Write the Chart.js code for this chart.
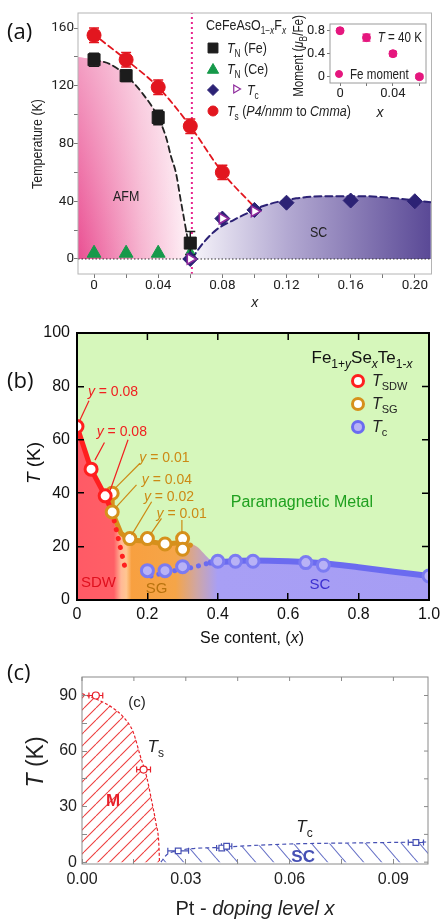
<!DOCTYPE html>
<html lang="en">
<head>
<meta charset="UTF-8" />
<meta name="viewport" content="width=device-width, initial-scale=1" />
<title>Phase diagrams of three iron-based superconductors</title>
<script src="https://cdn.jsdelivr.net/npm/chart.js"></script>
<style>
  body { margin: 0; background: #fff; }
  #wrap { position: relative; width: 441px; height: 920px; overflow: hidden; }
  #wrap canvas { position: absolute; left: 0; }
  #chartA { top: 0; }
  #inset { top: 10px; left: 285px !important; }
  #chartB { top: 312px; }
  #chartC { top: 648px; }
</style>
</head>
<body>
<div id="wrap">
  <canvas id="chartA" width="441" height="312"></canvas>
  <canvas id="inset" width="150" height="113"></canvas>
  <canvas id="chartB" width="441" height="336"></canvas>
  <canvas id="chartC" width="441" height="272"></canvas>
</div>

<script>
// ---------- (a) CeFeAsO1-xFx ----------
const tsX = [0, 0.02, 0.04, 0.06, 0.08];
const tsT = [155, 138, 119, 92, 60];
const tsErr = [5, 5, 5, 5, 5];
const tnFeX = [0, 0.02, 0.04, 0.06];
const tnFeT = [138, 127, 98, 11];
const tnFeErr = [4.5, 4, 5, 8];
const tnCeX = [0, 0.02, 0.04, 0.06];
const tnCeT = [4, 4, 4, 5];
const tcDiaX = [0.06, 0.08, 0.10, 0.12, 0.16, 0.20];
const tcDiaT = [0, 28, 34, 39, 40.5, 40];
const tcTriX = [0.06, 0.08, 0.10];
const tcTriT = [0, 28, 33];
// guide curves
const afmX = [-0.01, 0, 0.01, 0.02, 0.03, 0.04, 0.045, 0.048, 0.051, 0.054, 0.0577, 0.0605];
const afmT = [140, 138, 135, 127, 115, 98, 84, 71, 60, 41, 18, 0];
const tsLineX = [0.004, 0.02, 0.04, 0.06, 0.08, 0.1];
const tsLineT = [152, 138, 119, 92, 60, 36];
const scX = [0.061, 0.064, 0.068, 0.076, 0.087, 0.099, 0.105, 0.126, 0.147, 0.167, 0.188, 0.21];
const scT = [0, 5, 11, 20, 27, 33.5, 36.5, 42, 43.5, 43.5, 42, 39.3];
const limitX = [0.061, 0.061];
const limitT = [-10.4, 170.4];
const zeroX = [-0.01, 0.2104];
const zeroT = [0, 0];
// inset: Fe moment at 40 K
const momX = [0, 0.02, 0.04, 0.06];
const momV = [0.8, 0.68, 0.4, 0];
const momErr = [0.03, 0.06, 0.04, 0.03];

// ---------- (b) Fe1+ySexTe1-x ----------
const sdwX = [0, 0.04, 0.08];
const sdwT = [65, 49, 39];
const sgX = [0.1, 0.1, 0.15, 0.2, 0.25, 0.3, 0.3];
const sgT = [40, 33, 23, 23, 21, 23, 19];
const tcbX = [0.2, 0.25, 0.3, 0.4, 0.45, 0.5, 0.65, 0.7, 1.0];
const tcbT = [11, 11, 12.5, 14.5, 14.5, 14.5, 14, 13, 9];
const sdwLineX = [0, 0.04, 0.08, 0.1];
const sdwLineT = [65, 49, 39, 33];
const sdwTailX = [0.1, 0.14];
const sdwTailT = [33, 10];
const sgLineX = [0.1, 0.1, 0.125, 0.15, 0.2, 0.25, 0.3];
const sgLineT = [40, 33, 25, 22.5, 22, 21, 21.5];
const sgTailX = [0.3, 0.335];
const sgTailT = [21.5, 20];
const tcTailX = [0.21, 0.26, 0.32, 0.38];
const tcTailT = [9, 10.5, 12, 14];
const tcLineX = [0.38, 0.5, 0.6, 0.7, 0.8, 0.9, 1.0];
const tcLineT = [14, 14.8, 14.5, 13.8, 12.3, 10.6, 9];
const phaseX = [0, 0.04, 0.08, 0.1, 0.12, 0.15, 0.2, 0.25, 0.3, 0.34, 0.38, 0.4, 0.5, 0.6, 0.7, 0.8, 0.9, 1.0];
const phaseT = [65, 49, 39, 33, 25, 23, 23, 21, 22, 20, 15, 14.5, 14.8, 14.5, 13.8, 12.3, 10.6, 9];

// ---------- (c) Pt doping ----------
const mX = [0, 0.0042, 0.0086, 0.012, 0.0148, 0.0168, 0.0187, 0.0201, 0.0214, 0.0222, 0.0224];
const mT = [91, 88, 83.7, 78.3, 70.2, 57.6, 46, 33.4, 20.8, 10, 0];
const sccX = [0.0228, 0.0245, 0.028, 0.04, 0.06, 0.08, 0.1];
const sccT = [0, 4, 6.3, 8, 9.8, 10.4, 10.9];
const tscX = [0.004, 0.0178];
const tscT = [90, 50];
const tscErr = [0.002, 0.002];
const tccX = [0.0278, 0.0404, 0.0418, 0.0965];
const tccT = [6.1, 7.6, 8.6, 10.6];
const tccErr = [0.003, 0.0015, 0.0015, 0.0022];

// ---------- helpers ----------
const SANS = '"Liberation Sans", Arial, Helvetica, sans-serif';
const TICKA = 'Roboto, "Liberation Sans", sans-serif';
const TAG = '"Open Sans", "Liberation Sans", sans-serif';
const SQ = 0.83; // horizontal squeeze to mimic the condensed face of panel (a)
const RED_A = '#e2161f', NAVY = '#2c2275', GREEN = '#16994a', MAGENTA = '#e5177e';

const pts = (xs, ys) => xs.map((x, i) => ({ x, y: ys[i] }));
const isMul = (v, s) => Math.abs(v / s - Math.round(v / s)) < 1e-6;

// text with italic (i), subscript (s) and bold (b) runs; sx squeezes horizontally
function rich(ctx, x, y, parts, size, family, color, align, sx) {
  sx = sx || 1;
  const f = s => (s.includes('i') ? 'italic ' : '') + (s.includes('b') ? 'bold ' : '') +
    (s.includes('s') ? Math.round(size * 0.68) : size) + 'px ' + family;
  let w = 0;
  for (const [t, s = ''] of parts) { ctx.font = f(s); w += ctx.measureText(t).width; }
  w *= sx;
  let cx = align === 'center' ? x - w / 2 : align === 'right' ? x - w : x;
  ctx.save();
  ctx.fillStyle = color; ctx.textAlign = 'left'; ctx.textBaseline = 'alphabetic';
  for (const [t, s = ''] of parts) {
    ctx.font = f(s);
    ctx.save(); ctx.translate(cx, y + (s.includes('s') ? size * 0.28 : 0)); ctx.scale(sx, 1);
    ctx.fillText(t, 0, 0); ctx.restore();
    cx += ctx.measureText(t).width * sx;
  }
  ctx.restore();
}
function richUp(ctx, x, y, parts, size, family, color, sx) {
  ctx.save(); ctx.translate(x, y); ctx.rotate(-Math.PI / 2);
  rich(ctx, 0, size * 0.35, parts, size, family, color, 'center', sx);
  ctx.restore();
}
function sym(ctx, style, x, y, r, fill, stroke, bw, rot) {
  ctx.save(); ctx.fillStyle = fill; ctx.strokeStyle = stroke; ctx.lineWidth = bw;
  Chart.helpers.drawPoint(ctx, { pointStyle: style, radius: r, rotation: rot || 0, borderWidth: bw }, x, y);
  ctx.restore();
}
function frame(chart, color, w) {
  const { ctx, chartArea: a } = chart;
  ctx.save(); ctx.strokeStyle = color; ctx.lineWidth = w;
  ctx.strokeRect(a.left, a.top, a.right - a.left, a.bottom - a.top);
  ctx.restore();
}
function mirrorTicks(chart, len, color, w) {
  const { ctx, chartArea: a, scales: { x, y } } = chart;
  ctx.save(); ctx.strokeStyle = color; ctx.lineWidth = w; ctx.beginPath();
  x.ticks.forEach(t => { const p = x.getPixelForValue(t.value); ctx.moveTo(p, a.top); ctx.lineTo(p, a.top + len); });
  y.ticks.forEach(t => { const p = y.getPixelForValue(t.value); ctx.moveTo(a.right, p); ctx.lineTo(a.right - len, p); });
  ctx.stroke(); ctx.restore();
}
// hatch pattern, built on first use with the chart's own context
function hatch(rgb, w, h, up) {
  let pat = null;
  return c => {
    if (pat) return pat;
    const tile = document.createElement('canvas');
    tile.width = w; tile.height = h;
    const g = tile.getContext('2d');
    g.lineWidth = 1.1;
    g.strokeStyle = rgb;
    g.beginPath();
    for (let k = -1; k <= 1; k++) {
      if (up) { g.moveTo(k * w, h); g.lineTo(k * w + w, 0); }
      else { g.moveTo(k * w, 0); g.lineTo(k * w + w, h); }
    }
    g.stroke();
    pat = c.chart.ctx.createPattern(tile, 'repeat');
    return pat;
  };
}
const fixAxis = (w, h) => s => {
  if (w != null) s.width = w;
  if (h != null) s.height = h;
  s.paddingLeft = s.paddingRight = s.paddingTop = s.paddingBottom = 0;
};
const curve = (data, color, dash, width, order, extra) => Object.assign({
  data, borderColor: color, borderDash: dash, borderWidth: width, pointRadius: 0,
  fill: false, cubicInterpolationMode: 'monotone', borderCapStyle: 'round', order
}, extra || {});
const area = (data, bg, order) => ({
  data, fill: 'origin', backgroundColor: bg, borderWidth: 0, borderColor: 'transparent',
  pointRadius: 0, cubicInterpolationMode: 'monotone', order
});

const errorBars = {
  id: 'errorBars',
  beforeDatasetDraw(chart, args) {
    const ds = chart.data.datasets[args.index];
    if (!ds.errY && !ds.errX) return;
    const { ctx } = chart, xs = chart.scales.x, ys = chart.scales.y;
    const cap = ds.errCap || 4;
    ctx.save(); ctx.strokeStyle = ds.errColor; ctx.lineWidth = ds.errWidth || 1.5;
    ctx.beginPath();
    ds.data.forEach((p, i) => {
      const px = xs.getPixelForValue(p.x), py = ys.getPixelForValue(p.y);
      if (ds.errY) {
        const a = ys.getPixelForValue(p.y + ds.errY[i]), b = ys.getPixelForValue(p.y - ds.errY[i]);
        ctx.moveTo(px, a); ctx.lineTo(px, b);
        if (cap) {
          ctx.moveTo(px - cap, a); ctx.lineTo(px + cap, a);
          ctx.moveTo(px - cap, b); ctx.lineTo(px + cap, b);
        }
      }
      if (ds.errX) {
        const a = xs.getPixelForValue(p.x - ds.errX[i]), b = xs.getPixelForValue(p.x + ds.errX[i]);
        ctx.moveTo(a, py); ctx.lineTo(b, py);
        ctx.moveTo(a, py - cap); ctx.lineTo(a, py + cap);
        ctx.moveTo(b, py - cap); ctx.lineTo(b, py + cap);
      }
    });
    ctx.stroke(); ctx.restore();
  }
};

const common = {
  responsive: false, animation: false, events: [],
  plugins: { legend: { display: false }, tooltip: { enabled: false } }
};

// ---------- panel (a) ----------
function afmGrad(c) {
  const ch = c.chart; if (!ch.chartArea) return 'transparent';
  const x = ch.scales.x;
  const g = ch.ctx.createLinearGradient(x.getPixelForValue(-0.01), 0, x.getPixelForValue(0.061), 0);
  g.addColorStop(0, '#ea4f92'); g.addColorStop(0.55, '#f6b3cf'); g.addColorStop(1, '#fff6fa');
  return g;
}
function afmVeil(c) {
  const ch = c.chart; if (!ch.chartArea) return 'transparent';
  const y = ch.scales.y;
  const g = ch.ctx.createLinearGradient(0, y.getPixelForValue(0), 0, y.getPixelForValue(140));
  g.addColorStop(0, 'rgba(255,255,255,0)'); g.addColorStop(1, 'rgba(255,255,255,0.45)');
  return g;
}
function scGrad(c) {
  const ch = c.chart; if (!ch.chartArea) return 'transparent';
  const x = ch.scales.x;
  const g = ch.ctx.createLinearGradient(x.getPixelForValue(0.061), 0, x.getPixelForValue(0.21), 0);
  g.addColorStop(0, '#f6f4fa'); g.addColorStop(0.4, '#b3a9d2'); g.addColorStop(1, '#5a4996');
  return g;
}

const panelA = {
  id: 'panelA',
  afterDraw(chart) {
    const { ctx, scales: { x, y } } = chart;
    frame(chart, '#b4b4b4', 1);
    rich(ctx, 7, 39, [['(a)']], 22, TAG, '#111', 'left');
    richUp(ctx, 37, 144, [['Temperature (K)']], 15, SANS, '#222', SQ);
    rich(ctx, x.getPixelForValue(0.02), y.getPixelForValue(43.6) + 5, [['AFM']], 15, SANS, '#222', 'center', SQ);
    rich(ctx, x.getPixelForValue(0.14), y.getPixelForValue(18.7) + 5, [['SC']], 15, SANS, '#222', 'center', SQ);
    // legend
    rich(ctx, 206, 30, [['CeFeAsO'], ['1\u2212', 's'], ['x', 'si'], ['F'], ['x', 'si']], 15, SANS, '#222', 'left', SQ);
    sym(ctx, 'rect', 213, 48, 7, '#1c1c1c', '#1c1c1c', 1);
    rich(ctx, 227, 53, [['T', 'i'], ['N', 's'], [' (Fe)']], 15, SANS, '#222', 'left', SQ);
    sym(ctx, 'triangle', 213, 70, 6.5, GREEN, GREEN, 1);
    rich(ctx, 227, 74, [['T', 'i'], ['N', 's'], [' (Ce)']], 15, SANS, '#222', 'left', SQ);
    sym(ctx, 'rectRot', 213, 90, 5.5, NAVY, NAVY, 1);
    sym(ctx, 'triangle', 236, 89, 4.5, '#fff', '#8e2a9c', 1.2, 90);
    rich(ctx, 247, 95, [['T', 'i'], ['c', 's']], 15, SANS, '#222', 'left', SQ);
    sym(ctx, 'circle', 213, 111, 5, RED_A, RED_A, 1);
    rich(ctx, 227, 116, [['T', 'i'], ['s', 's'], [' ('], ['P4/nmm', 'i'], [' to '], ['Cmma', 'i'], [')']], 15, SANS, '#222', 'left', SQ);
  }
};

new Chart(document.getElementById('chartA'), {
  type: 'line',
  data: {
    datasets: [
      { data: pts(tsX, tsT), showLine: false, pointStyle: 'circle', pointRadius: 7, pointBackgroundColor: RED_A, pointBorderColor: RED_A, errY: tsErr, errColor: RED_A, errCap: 5, order: 1 },
      { data: pts(tcTriX, tcTriT), showLine: false, pointStyle: 'triangle', pointRotation: 90, pointRadius: 6, pointBackgroundColor: '#fff', pointBorderColor: '#8e2a9c', pointBorderWidth: 1.6, order: 2 },
      { data: pts(tcDiaX, tcDiaT), showLine: false, pointStyle: 'rectRot', pointRadius: 7.5, pointBackgroundColor: NAVY, pointBorderColor: NAVY, order: 3 },
      { data: pts(tnFeX, tnFeT), showLine: false, pointStyle: 'rect', pointRadius: 8.5, pointBackgroundColor: '#1c1c1c', pointBorderColor: '#1c1c1c', errY: tnFeErr, errColor: '#1c1c1c', errCap: 5, order: 4 },
      { data: pts(tnCeX, tnCeT), showLine: false, pointStyle: 'triangle', pointRadius: [8, 8, 8, 5.5], pointBackgroundColor: GREEN, pointBorderColor: GREEN, order: 5 },
      curve(pts(tsLineX, tsLineT), RED_A, [6, 4], 1.8, 8),
      curve(pts(afmX, afmT).filter(p => p.x >= 0), '#222', [6, 4], 1.8, 8),
      curve(pts(scX, scT), NAVY, [7, 4], 2, 8),
      curve(pts(limitX, limitT), '#e8248e', [2, 3], 2, 12, { cubicInterpolationMode: 'default', borderCapStyle: 'butt' }),
      curve(pts(zeroX, zeroT), '#333', [1.5, 2], 1, 12, { cubicInterpolationMode: 'default', borderCapStyle: 'butt' }),
      area(pts(afmX, afmT), afmVeil, 19),
      area(pts(afmX, afmT), afmGrad, 20),
      area(pts(scX, scT), scGrad, 20)
    ]
  },
  options: Object.assign({}, common, {
    layout: { padding: { top: 13, right: 9, left: 0, bottom: 0 } },
    scales: {
      x: {
        type: 'linear', min: -0.01, max: 0.2104, afterFit: fixAxis(null, 38),
        ticks: { stepSize: 0.02, includeBounds: false, autoSkip: false, maxRotation: 0, padding: 0,
          font: { family: TICKA, size: 13.5 }, color: '#222',
          callback: v => isMul(v, 0.04) ? (Math.abs(v) < 1e-9 ? '0' : v.toFixed(2)) : '' },
        grid: { drawOnChartArea: false, tickLength: 4, color: '#777' },
        border: { display: false },
        title: { display: true, text: 'x', color: '#222', font: { family: SANS, size: 14, style: 'italic' }, padding: { top: 0, bottom: 0 } }
      },
      y: {
        type: 'linear', min: -10.4, max: 170.4, afterFit: fixAxis(78, null),
        ticks: { stepSize: 20, includeBounds: false, autoSkip: false, padding: 0,
          font: { family: TICKA, size: 13.5 }, color: '#222',
          callback: v => isMul(v, 40) ? String(v) : '' },
        grid: { drawOnChartArea: false, tickLength: 4, color: '#777' },
        border: { display: false }
      }
    }
  }),
  plugins: [errorBars, panelA]
});

// ---------- inset ----------
const panelInset = {
  id: 'panelInset',
  afterDraw(chart) {
    const { ctx } = chart;
    frame(chart, '#9a9a9a', 1);
    richUp(ctx, 13, 46, [['Moment ('], ['\u03bc', 'i'], ['B', 's'], ['/Fe)']], 14, SANS, '#222', SQ);
    rich(ctx, 95, 107, [['x', 'i']], 14, SANS, '#222', 'center');
    rich(ctx, 137, 32, [['T', 'i'], [' = 40 K']], 14, SANS, '#222', 'right', SQ);
    sym(ctx, 'circle', 54, 64, 3.5, MAGENTA, MAGENTA, 1);
    rich(ctx, 65, 69, [['Fe moment']], 14, SANS, '#222', 'left', SQ);
  }
};
new Chart(document.getElementById('inset'), {
  type: 'line',
  data: {
    datasets: [
      { data: pts(momX, momV), showLine: false, pointStyle: 'circle', pointRadius: 4, pointBackgroundColor: MAGENTA, pointBorderColor: MAGENTA, errY: momErr, errColor: MAGENTA, errWidth: 1.2, errCap: 0, order: 1 }
    ]
  },
  options: Object.assign({}, common, {
    layout: { padding: { top: 14, right: 9, left: 0, bottom: 0 } },
    scales: {
      x: {
        type: 'linear', min: -0.0076, max: 0.065, afterFit: fixAxis(null, 40),
        ticks: { stepSize: 0.02, includeBounds: false, autoSkip: false, maxRotation: 0, padding: 0,
          font: { family: TICKA, size: 13 }, color: '#222',
          callback: v => isMul(v, 0.04) ? (Math.abs(v) < 1e-9 ? '0' : v.toFixed(2)) : '' },
        grid: { drawOnChartArea: false, tickLength: 3, color: '#777' },
        border: { display: false }
      },
      y: {
        type: 'linear', min: -0.11, max: 0.917, afterFit: fixAxis(45, null),
        ticks: { stepSize: 0.4, includeBounds: false, autoSkip: false, padding: 2,
          font: { family: TICKA, size: 13 }, color: '#222',
          callback: v => Math.abs(v) < 1e-9 ? '0' : v.toFixed(1) },
        grid: { drawOnChartArea: false, tickLength: 3, color: '#777' },
        border: { display: false }
      }
    }
  }),
  plugins: [errorBars, panelInset]
});

// ---------- panel (b) ----------
function phaseGrad(c) {
  const ch = c.chart; if (!ch.chartArea) return 'transparent';
  const x = ch.scales.x;
  const g = ch.ctx.createLinearGradient(x.getPixelForValue(0), 0, x.getPixelForValue(1), 0);
  g.addColorStop(0, '#ff5a66'); g.addColorStop(0.105, '#ff5f66');
  g.addColorStop(0.125, '#ffb896'); g.addColorStop(0.14, '#ffc692');
  g.addColorStop(0.155, '#f8a040'); g.addColorStop(0.28, '#f5a548');
  g.addColorStop(0.34, '#cfa6a4'); g.addColorStop(0.4, '#a89ff5'); g.addColorStop(1, '#a69df4');
  return g;
}
const RED_B = '#ff1f1f', ORANGE = '#d6901c', BLUE_B = '#6b6bf0';
const bNotes = [
  { t: '0.08', c: '#f02020', x: 0.031, y: 78.3, lines: [[0.0085, 67.4, 0.034, 74.6]] },
  { t: '0.08', c: '#f02020', x: 0.056, y: 63.3, lines: [[0.051, 52.4, 0.078, 59], [0.094, 41, 0.145, 60]] },
  { t: '0.01', c: '#cc8a14', x: 0.177, y: 53.4, lines: [[0.108, 41.8, 0.179, 51.2]] },
  { t: '0.04', c: '#cc8a14', x: 0.184, y: 45.2, lines: [[0.108, 34.3, 0.169, 43.1]] },
  { t: '0.02', c: '#cc8a14', x: 0.19, y: 39, lines: [[0.155, 24.3, 0.212, 36.8]] },
  { t: '0.01', c: '#cc8a14', x: 0.226, y: 32.7, lines: [[0.207, 24.3, 0.24, 30.6], [0.298, 25, 0.298, 30]] }
];
const panelB = {
  id: 'panelB',
  beforeDraw(chart) {
    const { ctx, chartArea: a } = chart;
    ctx.save(); ctx.fillStyle = '#d6f7bb';
    ctx.fillRect(a.left, a.top, a.right - a.left, a.bottom - a.top); ctx.restore();
  },
  afterDatasetsDraw(chart) {
    const { ctx, scales: { x, y } } = chart;
    bNotes.forEach(n => {
      ctx.save(); ctx.strokeStyle = n.c; ctx.lineWidth = 1.2; ctx.beginPath();
      n.lines.forEach(l => { ctx.moveTo(x.getPixelForValue(l[0]), y.getPixelForValue(l[1])); ctx.lineTo(x.getPixelForValue(l[2]), y.getPixelForValue(l[3])); });
      ctx.stroke(); ctx.restore();
    });
  },
  afterDraw(chart) {
    const { ctx, scales: { x, y } } = chart;
    frame(chart, '#000', 2);
    mirrorTicks(chart, 7, '#000', 1.5);
    rich(ctx, 7, 76, [['(b)']], 22, TAG, '#111', 'left');
    richUp(ctx, 33, 151, [['T', 'i'], [' (K)']], 19, SANS, '#111');
    rich(ctx, 252, 331, [['Se content, ('], ['x', 'i'], [')']], 16, SANS, '#111', 'center');
    bNotes.forEach(n => rich(ctx, x.getPixelForValue(n.x), y.getPixelForValue(n.y) + 5, [['y', 'i'], [' = ' + n.t]], 14, SANS, n.c, 'left'));
    rich(ctx, x.getPixelForValue(0.639), y.getPixelForValue(37) + 6, [['Paramagnetic Metal']], 16, SANS, '#1fa01f', 'center');
    rich(ctx, x.getPixelForValue(0.061), y.getPixelForValue(6.7) + 5, [['SDW']], 15, SANS, '#e0101e', 'center');
    rich(ctx, x.getPixelForValue(0.226), y.getPixelForValue(4.5) + 5, [['SG']], 15, SANS, '#b8730e', 'center');
    rich(ctx, x.getPixelForValue(0.69), y.getPixelForValue(6) + 5, [['SC']], 15, SANS, '#3c2fd0', 'center');
    // legend
    rich(ctx, 362, 51, [['Fe'], ['1+', 's'], ['y', 'si'], ['Se'], ['x', 'si'], ['Te'], ['1-', 's'], ['x', 'si']], 17, SANS, '#111', 'center');
    sym(ctx, 'circle', 358, 69, 5.5, '#fff', RED_B, 3);
    rich(ctx, 372, 74, [['T', 'i'], ['SDW', 's']], 16, SANS, '#222', 'left');
    sym(ctx, 'circle', 358, 92, 5.5, '#fff', ORANGE, 3);
    rich(ctx, 372, 97, [['T', 'i'], ['SG', 's']], 16, SANS, '#222', 'left');
    sym(ctx, 'circle', 358, 115, 5.5, '#b8b2f6', BLUE_B, 3);
    rich(ctx, 372, 120, [['T', 'i'], ['c', 's']], 16, SANS, '#222', 'left');
  }
};
new Chart(document.getElementById('chartB'), {
  type: 'line',
  data: {
    datasets: [
      { data: pts(sdwX, sdwT), showLine: false, pointRadius: 6, pointBorderWidth: 3, pointBackgroundColor: '#fff', pointBorderColor: RED_B, order: 1 },
      { data: pts(sgX, sgT), showLine: false, pointRadius: 6, pointBorderWidth: 3, pointBackgroundColor: '#fff', pointBorderColor: ORANGE, order: 2 },
      { data: pts(tcbX, tcbT), showLine: false, pointRadius: 6, pointBorderWidth: 3, pointBackgroundColor: '#b8b2f6', pointBorderColor: '#7b7bf2', order: 3 },
      curve(pts(sdwLineX, sdwLineT), RED_B, [], 5, 8, { cubicInterpolationMode: 'default' }),
      curve(pts(sdwTailX, sdwTailT), RED_B, [0.1, 9], 5, 8, { cubicInterpolationMode: 'default' }),
      curve(pts(sgLineX, sgLineT), ORANGE, [], 5, 8, { cubicInterpolationMode: 'default', borderJoinStyle: 'round' }),
      curve(pts(sgTailX, sgTailT), ORANGE, [0.1, 8], 5, 8, { cubicInterpolationMode: 'default' }),
      curve(pts(tcTailX, tcTailT), BLUE_B, [0.1, 8], 5, 8),
      curve(pts(tcLineX, tcLineT), BLUE_B, [], 6, 8),
      area(pts(phaseX, phaseT), phaseGrad, 20)
    ]
  },
  options: Object.assign({}, common, {
    layout: { padding: { top: 21, right: 12, left: 0, bottom: 0 } },
    scales: {
      x: {
        type: 'linear', min: 0, max: 1, afterFit: fixAxis(null, 48),
        ticks: { stepSize: 0.2, autoSkip: false, maxRotation: 0, padding: 12,
          font: { family: SANS, size: 16 }, color: '#111',
          callback: v => Math.abs(v) < 1e-9 ? '0' : v.toFixed(1) },
        grid: { drawOnChartArea: false, tickLength: -7, color: '#000', lineWidth: 1.5, z: 1 },
        border: { display: false }
      },
      y: {
        type: 'linear', min: 0, max: 100, afterFit: fixAxis(77, null),
        ticks: { stepSize: 20, autoSkip: false, padding: 14,
          font: { family: SANS, size: 16 }, color: '#111' },
        grid: { drawOnChartArea: false, tickLength: -7, color: '#000', lineWidth: 1.5, z: 1 },
        border: { display: false }
      }
    }
  }),
  plugins: [panelB]
});

// ---------- panel (c) ----------
const RED_C = '#e8202a', BLUE_C = '#4650b4';
const panelC = {
  id: 'panelC',
  afterDraw(chart) {
    const { ctx, scales: { x, y } } = chart;
    frame(chart, '#8a8a8a', 1);
    mirrorTicks(chart, 4, '#8a8a8a', 1);
    rich(ctx, 7, 32, [['(c)']], 22, TAG, '#111', 'left');
    richUp(ctx, 35, 114, [['T', 'i'], [' (K)']], 23, SANS, '#222');
    rich(ctx, 255, 267, [['Pt - '], ['doping level x', 'i']], 20, SANS, '#222', 'center');
    rich(ctx, x.getPixelForValue(0.0159), y.getPixelForValue(86.7) + 5, [['(c)']], 15, SANS, '#222', 'center');
    rich(ctx, x.getPixelForValue(0.0213), y.getPixelForValue(62) + 5, [['T', 'i'], ['s', 's']], 17, SANS, '#222', 'center');
    rich(ctx, x.getPixelForValue(0.0643), y.getPixelForValue(18.8) + 5, [['T', 'i'], ['c', 's']], 17, SANS, '#222', 'center');
    rich(ctx, x.getPixelForValue(0.009), y.getPixelForValue(33.4) + 6, [['M', 'b']], 17, SANS, RED_C, 'center');
    rich(ctx, x.getPixelForValue(0.0639), y.getPixelForValue(3.2) + 6, [['SC', 'b']], 17, SANS, BLUE_C, 'center');
  }
};
new Chart(document.getElementById('chartC'), {
  type: 'line',
  data: {
    datasets: [
      { data: pts(tscX, tscT), showLine: false, pointRadius: 3.5, pointBorderWidth: 1.2, pointBackgroundColor: '#fff', pointBorderColor: RED_C, errX: tscErr, errColor: RED_C, errWidth: 1.2, errCap: 3, order: 1 },
      { data: pts(tccX, tccT), showLine: false, pointStyle: 'rect', pointRadius: 4, pointBorderWidth: 1.2, pointBackgroundColor: '#fff', pointBorderColor: BLUE_C, errX: tccErr, errColor: BLUE_C, errWidth: 1.2, errCap: 3, order: 1 },
      Object.assign(area(pts(mX, mT), hatch('rgb(238,64,64)', 12, 12, true), 20), { borderWidth: 1.2, borderColor: RED_C, borderDash: [3, 2] }),
      Object.assign(area(pts(sccX, sccT), hatch('rgb(106,116,200)', 18, 21, false), 20), { borderWidth: 1.2, borderColor: BLUE_C, borderDash: [4, 3] })
    ]
  },
  options: Object.assign({}, common, {
    layout: { padding: { top: 29, right: 13, left: 0, bottom: 0 } },
    scales: {
      x: {
        type: 'linear', min: 0, max: 0.1, afterFit: fixAxis(null, 56),
        ticks: { stepSize: 0.015, includeBounds: false, autoSkip: false, maxRotation: 0, padding: 11,
          font: { family: SANS, size: 16 }, color: '#222',
          callback: v => isMul(v, 0.03) ? v.toFixed(2) : '' },
        grid: { drawOnChartArea: false, tickLength: -5, color: '#8a8a8a', z: 1 },
        border: { display: false }
      },
      y: {
        type: 'linear', min: -1, max: 100, afterFit: fixAxis(82, null),
        ticks: { stepSize: 15, includeBounds: false, autoSkip: false, padding: 10,
          font: { family: SANS, size: 16 }, color: '#222',
          callback: v => isMul(v, 30) ? String(v) : '' },
        grid: { drawOnChartArea: false, tickLength: -5, color: '#8a8a8a', z: 1 },
        border: { display: false }
      }
    }
  }),
  plugins: [errorBars, panelC]
});
</script>
</body>
</html>
